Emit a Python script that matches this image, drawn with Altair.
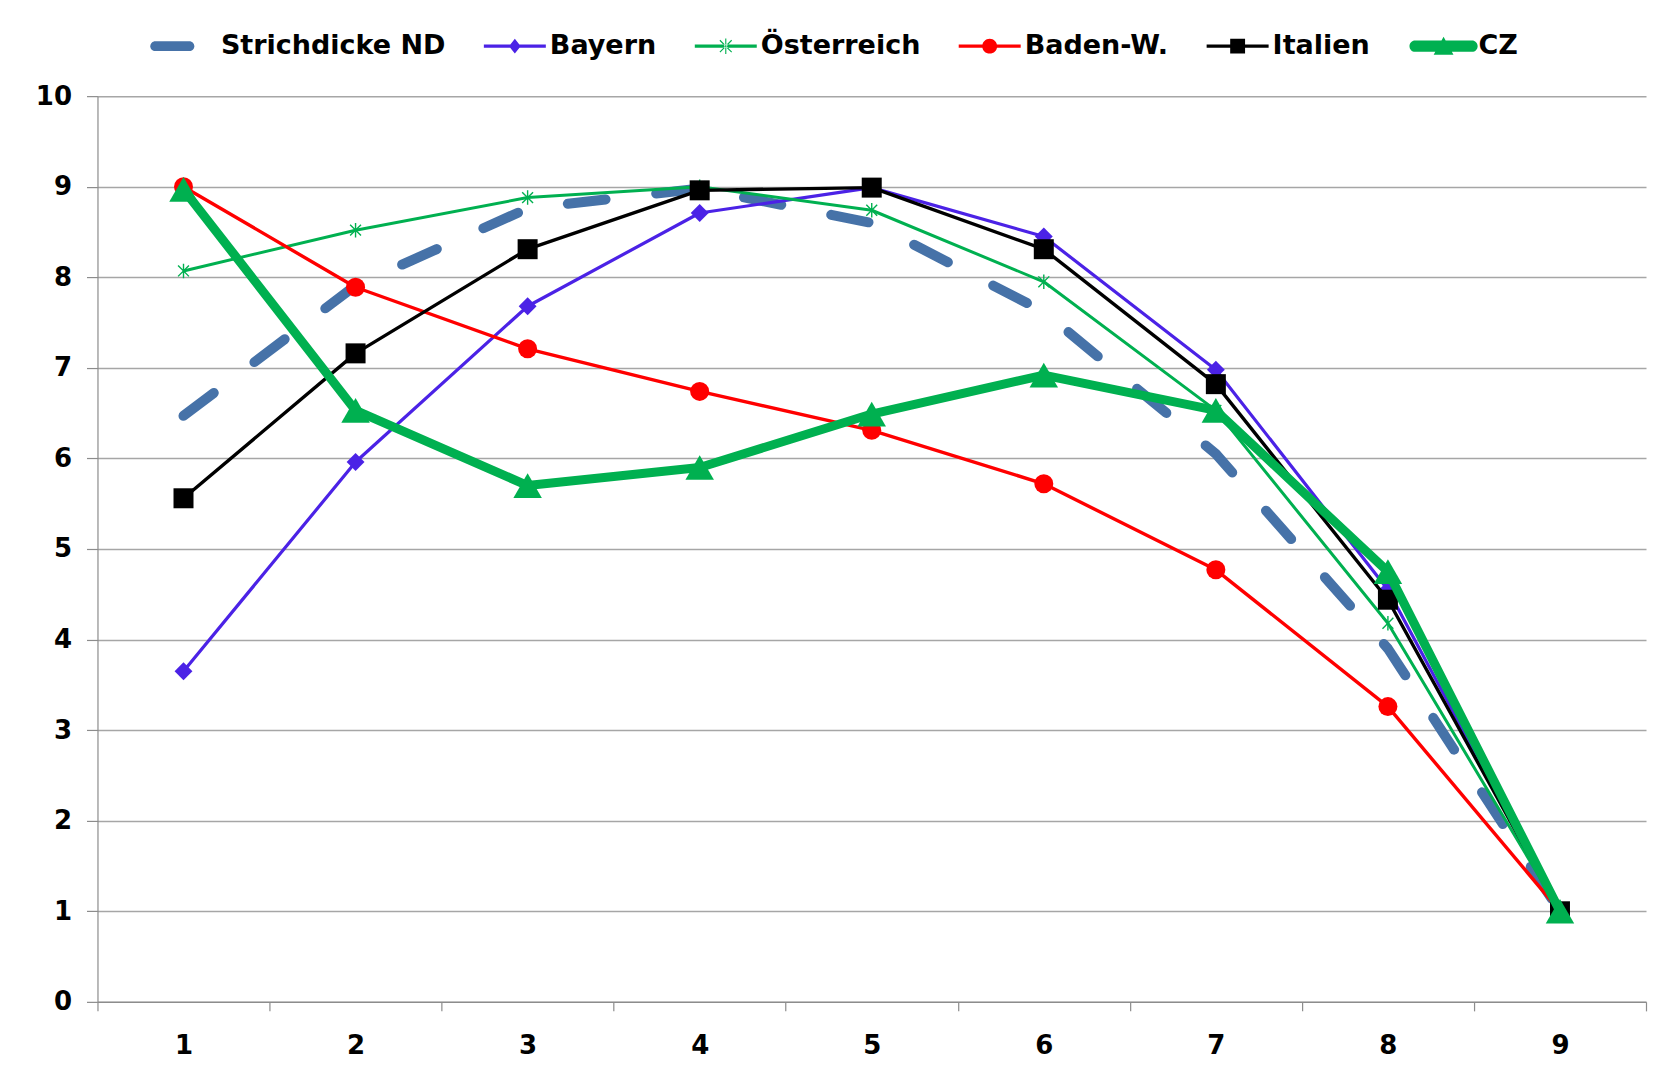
import math
import altair as alt
import pandas as pd

# ---------------- data ----------------
positions = [1, 2, 3, 4, 5, 6, 7, 8, 9]
series_names = ["Strichdicke ND", "Bayern", "Österreich", "Baden-W.", "Italien", "CZ"]
strichdicke_nd = [6.47, 7.91, 8.76, 8.98, 8.60, 7.62, 6.05, 3.90, 1.00]
bayern = [3.65, 5.96, 7.68, 8.71, 8.99, 8.45, 6.98, 4.55, 1.00]
oesterreich = [8.07, 8.52, 8.88, 9.00, 8.74, 7.95, 6.53, 4.18, 1.00]
baden_w = [9.00, 7.89, 7.21, 6.74, 6.31, 5.72, 4.77, 3.26, 1.00]
italien = [5.56, 7.16, 8.31, 8.96, 8.99, 8.31, 6.82, 4.44, 1.00]
cz = [8.97, 6.53, 5.70, 5.90, 6.49, 6.92, 6.53, 4.75, 1.00]
y_ticks = list(range(0, 11))
x_tick_bounds = [0.5 + i for i in range(10)]

values = {
    "Strichdicke ND": strichdicke_nd,
    "Bayern": bayern,
    "Österreich": oesterreich,
    "Baden-W.": baden_w,
    "Italien": italien,
    "CZ": cz,
}

# ---------------- styles ----------------
W, H = 1549, 906
BAND = W / 9
FONT = "DejaVu Sans"

colors = {
    "Strichdicke ND": "#4672A8",
    "Bayern": "#4B22E6",
    "Österreich": "#00B050",
    "Baden-W.": "#FF0000",
    "Italien": "#000000",
    "CZ": "#00B050",
}
line_width = {
    "Strichdicke ND": 10,
    "Bayern": 3.2,
    "Österreich": 3,
    "Baden-W.": 3.4,
    "Italien": 3.4,
    "CZ": 9,
}
marker = {
    "Bayern": dict(shape="diamond", size=320, filled=True),
    "Österreich": dict(shape="M0,-1L0,1M-0.75,-0.75L0.75,0.75M-0.75,0.75L0.75,-0.75",
                       size=210, filled=False),
    "Baden-W.": dict(shape="circle", size=361, filled=True),
    "Italien": dict(shape="square", size=400, filled=True),
    "CZ": dict(shape="triangle-up", size=812, filled=True),
}


def rect(x0, x1, h):
    return f"M{x0},{-h}H{x1}V{h}H{x0}Z"


def pill(x0, x1, h):
    return f"M{x0},{-h}H{x1}A{h},{h} 0 0 1 {x1},{h}H{x0}A{h},{h} 0 0 1 {x0},{-h}Z"


def spoke(dx, dy, t):
    L = math.hypot(dx, dy)
    nx, ny = -dy / L * t, dx / L * t
    return (f"M{-dx + nx:.3f},{-dy + ny:.3f}L{dx + nx:.3f},{dy + ny:.3f}"
            f"L{dx - nx:.3f},{dy - ny:.3f}L{-dx - nx:.3f},{-dy - ny:.3f}Z")


legend_paths = [
    pill(-0.99, 0.11, 0.16),
    rect(-1, 1, 0.052) + "M0,-0.24L0.19,0L0,0.24L-0.19,0Z",
    rect(-1, 1, 0.05) + spoke(0, 0.25, 0.018) + spoke(0.19, 0.19, 0.018) + spoke(0.19, -0.19, 0.018),
    rect(-1, 1, 0.055) + "M-0.24,0A0.24,0.24 0 1 1 0.24,0A0.24,0.24 0 1 1 -0.24,0Z",
    rect(-1, 1, 0.055) + "M-0.24,-0.24H0.24V0.24H-0.24Z",
    pill(-0.92, 0.92, 0.18) + "M0,-0.3L0.32,0.28L-0.32,0.28Z",
]

x_scale = alt.Scale(domain=[0.5, 9.5], nice=False, zero=False)
y_scale = alt.Scale(domain=[0, 10], nice=False, zero=True)

x_axis = alt.Axis(
    values=x_tick_bounds,
    labelExpr="datum.value < 9 ? format(datum.value + 0.5, 'd') : ''",
    labelOffset=BAND / 2,
    labelFlush=False,
    labelOverlap=False,
    grid=False,
    tickSize=9,
    tickColor="#8C8C8C",
    tickWidth=1.2,
    domainColor="#8C8C8C",
    domainWidth=1.2,
    labelPadding=22,
    labelFont=FONT,
    labelFontSize=26,
    labelFontWeight="bold",
    labelColor="black",
    title=None,
)
y_axis = alt.Axis(
    values=y_ticks,
    format="d",
    grid=True,
    gridColor="#A6A6A6",
    gridWidth=1.5,
    tickSize=11,
    tickColor="#8C8C8C",
    tickWidth=1.2,
    domainColor="#8C8C8C",
    domainWidth=1.2,
    labelPadding=15,
    labelFont=FONT,
    labelFontSize=26,
    labelFontWeight="bold",
    labelColor="black",
    labelFlush=False,
    title=None,
)

X = alt.X("pos:Q", scale=x_scale, axis=x_axis)
Y = alt.Y("val:Q", scale=y_scale, axis=y_axis)

frames = []
for name in series_names:
    frames.append(pd.DataFrame({"series": name, "pos": positions, "val": values[name]}))
df = pd.concat(frames, ignore_index=True)

layers = []
for name in series_names:
    d = df[df["series"] == name]
    line_kwargs = dict(color=colors[name], strokeWidth=line_width[name], strokeJoin="round")
    if name == "Strichdicke ND":
        line_kwargs.update(strokeDash=[38, 51], strokeCap="round")
    layers.append(alt.Chart(d).mark_line(**line_kwargs).encode(x=X, y=Y))
    if name in marker:
        m = marker[name]
        if m["filled"]:
            pm = alt.Chart(d).mark_point(shape=m["shape"], size=m["size"], filled=True,
                                         color=colors[name], opacity=1, strokeWidth=0)
        else:
            pm = alt.Chart(d).mark_point(shape=m["shape"], size=m["size"], filled=False,
                                         color=colors[name], opacity=1, strokeWidth=1.4)
        layers.append(pm.encode(x=X, y=Y))

# legend-only layer (null values are not drawn)
legend_df = pd.DataFrame({"lseries": series_names, "pos": [1] * 6, "val": [None] * 6})
legend_layer = alt.Chart(legend_df).mark_point(filled=True, opacity=1).encode(
    x=X,
    y=Y,
    color=alt.Color(
        "lseries:N",
        scale=alt.Scale(domain=series_names, range=[colors[n] for n in series_names]),
        legend=alt.Legend(
            title=None,
            orient="none",
            legendX=57.5,
            legendY=-81,
            direction="horizontal",
            columns=6,
            symbolSize=3844,
            symbolStrokeWidth=0,
            labelFont=FONT,
            labelFontSize=27,
            labelFontWeight="bold",
            labelColor="black",
            labelOffset=4,
            labelLimit=0,
            columnPadding=38,
            padding=0,
        ),
    ),
    shape=alt.Shape(
        "lseries:N",
        scale=alt.Scale(domain=series_names, range=legend_paths),
    ),
)
layers.append(legend_layer)

chart = alt.layer(*layers).properties(
    width=W,
    height=H,
    padding={"left": 89.5, "top": 88, "right": 7, "bottom": 70},
    autosize=alt.AutoSizeParams(type="none"),
    background="white",
).configure_view(stroke=None)

chart.save("out.html", embed_options={"renderer": "svg", "actions": False})
